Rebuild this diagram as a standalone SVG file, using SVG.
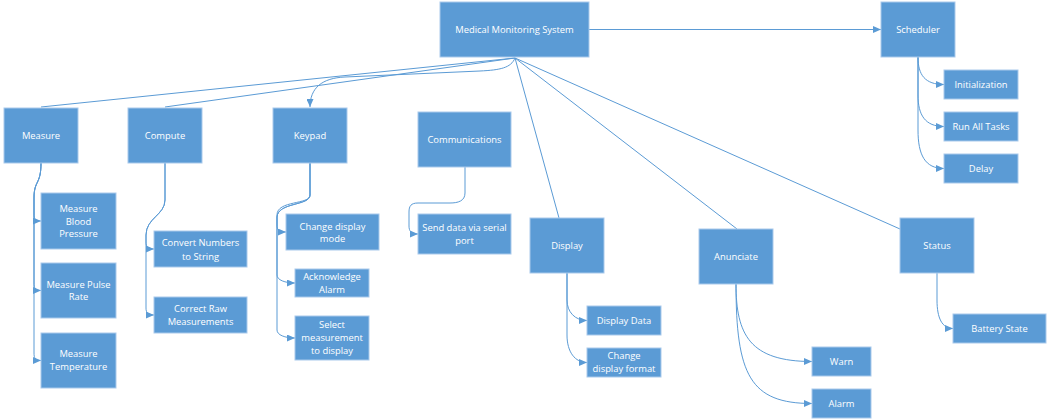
<svg xmlns="http://www.w3.org/2000/svg" width="1050" height="420" viewBox="0 0 1050 420">
<defs>
<marker id="arr" markerUnits="userSpaceOnUse" markerWidth="8" markerHeight="7" refX="8" refY="3.5" orient="auto">
<path d="M0,0 L8,3.5 L0,7 z" fill="#5B9BD5"/>
</marker>
<style>
.box{fill:#5B9BD5;stroke:#A9C9EB;stroke-width:1}
.t{font-family:"Open Sans","Noto Sans",sans-serif;font-size:9.4px;fill:#FFFFFF;text-anchor:middle}
.c{fill:none;stroke:#5B9BD5;stroke-width:1}
.a{marker-end:url(#arr)}
</style>
</defs>
<rect width="1050" height="420" fill="#FFFFFF"/>
<g id="connectors">
<path class="c" d="M515,58 L41,107"/>
<path class="c" d="M515,58 L165,107"/>
<path class="c a" d="M515,58 C511,68 500,70 480,71 L345,77 C322,78 310,88 310,107"/>
<path class="c" d="M515,58 L559,218"/>
<path class="c" d="M515,58 L737,229"/>
<path class="c" d="M515,58 L900,229"/>
<path class="c a" d="M589,29.5 L881,29.5"/>
<path class="c a" d="M41,163 C41,185 34,180 34,198 L34,214 C34,219 35,221 41,221"/>
<path class="c a" d="M41,163 C41,185 34,180 34,198 L34,283 C34,288 35,290.5 41,290.5"/>
<path class="c a" d="M41,163 C41,185 34,180 34,198 L34,353 C34,358 35,360.5 41,360.5"/>
<path class="c a" d="M165,163 L165,200 C165,215 146,218 146,235 L146,242 C146,247 148,249 154,249"/>
<path class="c a" d="M165,163 L165,200 C165,215 146,218 146,235 L146,308 C146,313 148,315 154,315"/>
<path class="c a" d="M310,163 L310,195 C310,205 277,200 277,215 L277,225 C277,230 279,232 286,232"/>
<path class="c a" d="M310,163 L310,195 C310,206 278,202 277,217 L277,275 C277,280 285,283 295,283"/>
<path class="c a" d="M310,163 L310,195 C310,206 278,202 277,217 L277,330 C277,335 285,338 295,338"/>
<path class="c a" d="M465,167 L465,193 C465,201 458,203 450,203 L418,203 C411,203 409,206 409,212 L409,226 C409,231 411,234 418,234"/>
<path class="c a" d="M567,273 L567,300 C567,312 575,320.5 587,320.5"/>
<path class="c a" d="M567,273 L567,335 C567,352 575,362.5 587,362.5"/>
<path class="c a" d="M736,284 C736,335 750,361.5 812,361.5"/>
<path class="c a" d="M736,284 C736,375 750,403.5 812,403.5"/>
<path class="c a" d="M937,273 L937,300 C937,318 942,328.5 953,328.5"/>
<path class="c a" d="M918,57 C918,75 925,84.5 944,84.5"/>
<path class="c a" d="M918,57 L918,95 C918,115 925,126.5 944,126.5"/>
<path class="c a" d="M918,57 L918,130 C918,155 925,168.5 944,168.5"/>
</g>
<g id="root"><rect class="box" x="440" y="2" width="149" height="55"/><text class="t" x="514.5" y="33">Medical Monitoring System</text></g>
<g id="scheduler"><rect class="box" x="881" y="2" width="74" height="55"/><text class="t" x="918" y="33">Scheduler</text></g>
<g id="initialization"><rect class="box" x="944" y="70" width="74" height="29"/><text class="t" x="981" y="88">Initialization</text></g>
<g id="runalltasks"><rect class="box" x="944" y="112" width="74" height="29"/><text class="t" x="981" y="130">Run All Tasks</text></g>
<g id="delay"><rect class="box" x="944" y="154" width="74" height="29"/><text class="t" x="981" y="172">Delay</text></g>
<g id="measure"><rect class="box" x="4" y="108" width="74" height="55"/><text class="t" x="41" y="139">Measure</text></g>
<g id="compute"><rect class="box" x="128" y="108" width="74" height="55"/><text class="t" x="165" y="139">Compute</text></g>
<g id="keypad"><rect class="box" x="273" y="108" width="74" height="55"/><text class="t" x="310" y="139">Keypad</text></g>
<g id="communications"><rect class="box" x="418" y="112" width="93" height="55"/><text class="t" x="464.5" y="143">Communications</text></g>
<g id="bloodpressure"><rect class="box" x="41" y="193" width="75" height="56"/><text class="t" x="78.5" y="212">Measure</text><text class="t" x="78.5" y="224.5">Blood</text><text class="t" x="78.5" y="237">Pressure</text></g>
<g id="pulserate"><rect class="box" x="41" y="263" width="75" height="55"/><text class="t" x="78.5" y="288">Measure Pulse</text><text class="t" x="78.5" y="300">Rate</text></g>
<g id="temperature"><rect class="box" x="41" y="333" width="75" height="55"/><text class="t" x="78.5" y="357">Measure</text><text class="t" x="78.5" y="370">Temperature</text></g>
<g id="convert"><rect class="box" x="154" y="231" width="93" height="36"/><text class="t" x="200.5" y="246">Convert Numbers</text><text class="t" x="200.5" y="259.5">to String</text></g>
<g id="correct"><rect class="box" x="154" y="297" width="93" height="36"/><text class="t" x="200.5" y="312">Correct Raw</text><text class="t" x="200.5" y="325">Measurements</text></g>
<g id="changedisplaymode"><rect class="box" x="286" y="214" width="93" height="36"/><text class="t" x="332.5" y="229.5">Change display</text><text class="t" x="332.5" y="242">mode</text></g>
<g id="acknowledge"><rect class="box" x="295" y="269" width="74" height="28"/><text class="t" x="332" y="280">Acknowledge</text><text class="t" x="332" y="292.5">Alarm</text></g>
<g id="selectmeasurement"><rect class="box" x="295" y="316" width="74" height="44"/><text class="t" x="332" y="328">Select</text><text class="t" x="332" y="341">measurement</text><text class="t" x="332" y="354">to display</text></g>
<g id="senddata"><rect class="box" x="418" y="214" width="93" height="40"/><text class="t" x="464.5" y="231">Send data via serial</text><text class="t" x="464.5" y="244">port</text></g>
<g id="display"><rect class="box" x="530" y="218" width="74" height="55"/><text class="t" x="567" y="249">Display</text></g>
<g id="displaydata"><rect class="box" x="587" y="306" width="74" height="29"/><text class="t" x="624" y="324">Display Data</text></g>
<g id="changedisplayformat"><rect class="box" x="587" y="348" width="74" height="29"/><text class="t" x="624" y="359">Change</text><text class="t" x="624" y="372">display format</text></g>
<g id="anunciate"><rect class="box" x="699" y="229" width="74" height="55"/><text class="t" x="736" y="260">Anunciate</text></g>
<g id="warn"><rect class="box" x="812" y="347" width="59" height="29"/><text class="t" x="841.5" y="365">Warn</text></g>
<g id="alarm"><rect class="box" x="812" y="389" width="59" height="29"/><text class="t" x="841.5" y="407">Alarm</text></g>
<g id="status"><rect class="box" x="900" y="218" width="74" height="55"/><text class="t" x="937" y="249">Status</text></g>
<g id="batterystate"><rect class="box" x="953" y="314" width="93" height="29"/><text class="t" x="999.5" y="332">Battery State</text></g>
</svg>
